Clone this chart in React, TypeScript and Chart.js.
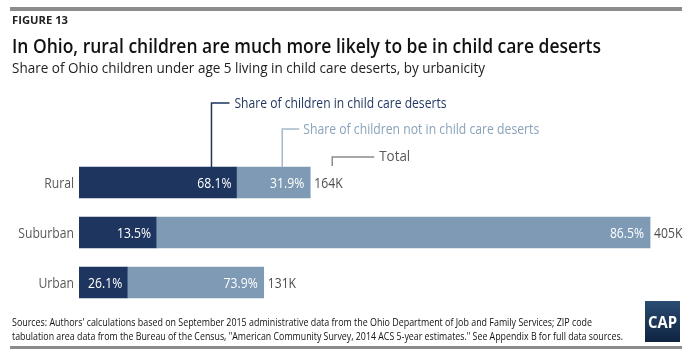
import React, { useEffect, useRef } from "react";
import { Chart, registerables } from "chart.js";
Chart.register(...registerables);

const categories = ["Rural", "Suburban", "Urban"];
const totalsK = [164, 405, 131];
const pctInDesert = [68.1, 13.5, 26.1];
const pctNotInDesert = [31.9, 86.5, 73.9];
const totalLabels = ["164K", "405K", "131K"];

const inDesert = totalsK.map((t, i) => (t * pctInDesert[i]) / 100);
const notInDesert = totalsK.map((t, i) => (t * pctNotInDesert[i]) / 100);

const DARK = "#1d355f";
const LIGHT = "#7f9ab5";
const FONT = "'Open Sans', sans-serif";

function drawFit(ctx: CanvasRenderingContext2D, text: string, x: number, y: number, font: string, color: string, width: number) {
  ctx.save();
  ctx.font = font;
  ctx.fillStyle = color;
  ctx.textAlign = "left";
  ctx.textBaseline = "alphabetic";
  const w = ctx.measureText(text).width;
  ctx.translate(x, y);
  ctx.scale(width / w, 1);
  ctx.fillText(text, 0, 0);
  ctx.restore();
}

function drawCond(ctx: CanvasRenderingContext2D, text: string, x: number, y: number, font: string, color: string, align: "left" | "right", k = 0.86) {
  ctx.save();
  ctx.font = font;
  ctx.fillStyle = color;
  ctx.textAlign = align;
  ctx.textBaseline = "alphabetic";
  ctx.translate(x, y);
  ctx.scale(k, 1);
  ctx.fillText(text, 0, 0);
  ctx.restore();
}

function line(ctx: CanvasRenderingContext2D, pts: number[][], color: string, w = 1.5) {
  ctx.save();
  ctx.strokeStyle = color;
  ctx.lineWidth = w;
  ctx.beginPath();
  pts.forEach((p, i) => (i ? ctx.lineTo(p[0], p[1]) : ctx.moveTo(p[0], p[1])));
  ctx.stroke();
  ctx.restore();
}

const overlay = {
  id: "overlay",
  afterDatasetsDraw(chart: any) {
    const ctx: CanvasRenderingContext2D = chart.ctx;
    const xs = chart.scales.x;
    const ys = chart.scales.y;
    const half = 15.5;

    // top and bottom rules
    ctx.fillStyle = "#8c8c8e";
    ctx.fillRect(10, 7, 672, 4);
    ctx.fillRect(10, 346, 672, 3);

    drawFit(ctx, "FIGURE 13", 12, 24, `bold 10px ${FONT}`, "#222222", 56);
    drawFit(ctx, "In Ohio, rural children are much more likely to be in child care deserts", 12, 53, `600 19.5px ${FONT}`, "#111111", 589);
    drawFit(ctx, "Share of Ohio children under age 5 living in child care deserts, by urbanicity", 12, 73, `14px ${FONT}`, "#222222", 473);

    // categories and labels
    categories.forEach((c, i) => {
      const yc = ys.getPixelForValue(i);
      const xDark = xs.getPixelForValue(inDesert[i]);
      const xEnd = xs.getPixelForValue(inDesert[i] + notInDesert[i]);
      drawCond(ctx, c, 74, yc + 5.5, `14.5px ${FONT}`, "#595959", "right", 0.84);
      drawCond(ctx, pctInDesert[i].toFixed(1) + "%", xDark - 5, yc + 5.5, `14.5px ${FONT}`, "#ffffff", "right", 0.84);
      drawCond(ctx, pctNotInDesert[i].toFixed(1) + "%", xEnd - 6, yc + 5.5, `14.5px ${FONT}`, "#ffffff", "right", 0.84);
      drawCond(ctx, totalLabels[i], xEnd + 4, yc + 5.5, `14.5px ${FONT}`, "#4d4d4d", "left", 0.84);
    });

    // legend annotations on the Rural bar
    const y0 = ys.getPixelForValue(0) - half;
    const xd = xs.getPixelForValue(inDesert[0]) - 25;
    line(ctx, [[xd, y0], [xd, 103], [xd + 18, 103]], DARK);
    drawFit(ctx, "Share of children in child care deserts", xd + 23, 107.5, `14.5px ${FONT}`, DARK, 212);

    const xl = xs.getPixelForValue(totalsK[0]) - 28;
    line(ctx, [[xl, y0], [xl, 129], [xl + 17, 129]], "#a7bacc");
    drawFit(ctx, "Share of children not in child care deserts", xl + 21, 134, `14.5px ${FONT}`, "#8aa3bb", 236);

    const xt = xs.getPixelForValue(totalsK[0]) + 22;
    line(ctx, [[xt, y0 - 1], [xt, 157], [xt + 42, 157]], "#8c8c8c");
    drawFit(ctx, "Total", xt + 47, 161, `14.5px ${FONT}`, "#595959", 31);

    // sources
    drawFit(ctx, "Sources: Authors' calculations based on September 2015 administrative data from the Ohio Department of Job and Family Services; ZIP code", 12, 326, `11px ${FONT}`, "#111111", 580);
    drawFit(ctx, "tabulation area data from the Bureau of the Census, \"American Community Survey, 2014 ACS 5-year estimates.\" See Appendix B for full data sources.", 12, 340, `11px ${FONT}`, "#111111", 611);

    // logo
    const g = ctx.createLinearGradient(0, 301, 0, 342);
    g.addColorStop(0, "#2a4c73");
    g.addColorStop(1, "#0f2340");
    ctx.fillStyle = g;
    ctx.fillRect(645, 301, 35, 41);
    drawFit(ctx, "CAP", 648, 328, `bold 16px ${FONT}`, "#ffffff", 29);
  },
};

export default function App() {
  const ref = useRef<HTMLCanvasElement | null>(null);
  useEffect(() => {
    document.body.style.margin = "0";
    const chart = new Chart(ref.current as HTMLCanvasElement, {
      type: "bar",
      data: {
        labels: categories,
        datasets: [
          { label: "Share of children in child care deserts", data: inDesert, backgroundColor: DARK, barThickness: 31, borderWidth: 0 },
          { label: "Share of children not in child care deserts", data: notInDesert, backgroundColor: LIGHT, barThickness: 31, borderWidth: 0 },
        ],
      },
      options: {
        indexAxis: "y",
        responsive: false,
        animation: false,
        layout: { padding: { left: 79, right: 21.8, top: 157.5, bottom: 44.5 } },
        plugins: { legend: { display: false }, tooltip: { enabled: false } },
        scales: {
          x: { stacked: true, display: false, min: 0, max: 420 },
          y: { stacked: true, display: false },
        },
      },
      plugins: [overlay],
    });
    return () => chart.destroy();
  }, []);
  return (
    <div style={{ width: 693, height: 352, background: "#ffffff" }}>
      <canvas ref={ref} width={693} height={352} style={{ display: "block" }} />
    </div>
  );
}
